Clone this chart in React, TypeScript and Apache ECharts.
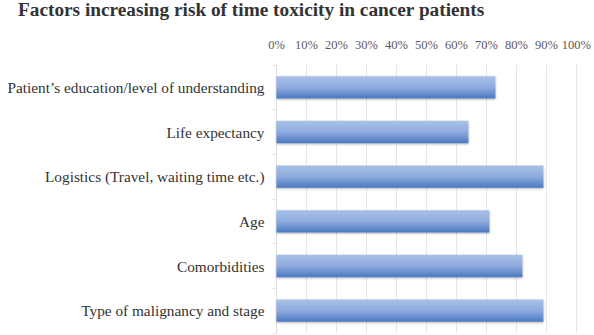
import React, { useEffect, useRef } from "react";
import * as echarts from "echarts";

const titleText = "Factors increasing risk of time toxicity in cancer patients";
const categories = [
  "Patient\u2019s education/level of understanding",
  "Life expectancy",
  "Logistics (Travel, waiting time etc.)",
  "Age",
  "Comorbidities",
  "Type of malignancy and stage",
];
const values = [0.73, 0.64, 0.89, 0.71, 0.82, 0.89];

const serif = "'Liberation Serif', 'Times New Roman', serif";

export default function App() {
  const ref = useRef<HTMLDivElement>(null);
  useEffect(() => {
    const chart = echarts.init(ref.current!, null, { renderer: "svg" });
    chart.setOption({
      animation: false,
      backgroundColor: "#ffffff",
      title: {
        text: titleText,
        left: 18,
        top: 0,
        padding: 0,
        textStyle: { fontFamily: serif, fontSize: 19.3, fontWeight: "bold", color: "#333333" },
      },
      grid: { left: 276.5, right: 16, top: 65, bottom: 2, containLabel: false },
      xAxis: {
        type: "value",
        position: "top",
        min: 0,
        max: 1,
        interval: 0.1,
        axisLine: { show: false },
        axisTick: { show: false },
        axisLabel: {
          margin: 14,
          fontFamily: serif,
          fontSize: 12.5,
          color: "#595959",
          formatter: (v: number) => Math.round(v * 100) + "%",
        },
        splitLine: { show: true, lineStyle: { color: "#e6e6e6", width: 1 } },
      },
      yAxis: {
        type: "category",
        data: categories,
        inverse: true,
        axisLine: { show: true, lineStyle: { color: "#e0e0e0" } },
        axisTick: { show: true, length: 4, lineStyle: { color: "#e0e0e0" } },
        axisLabel: { margin: 12, fontFamily: serif, fontSize: 15.3, color: "#333333" },
      },
      series: [
        {
          type: "bar",
          data: values,
          barWidth: "50%",
          itemStyle: {
            color: new echarts.graphic.LinearGradient(0, 0, 0, 1, [
              { offset: 0, color: "#a9c1e8" },
              { offset: 0.5, color: "#8fabde" },
              { offset: 1, color: "#4a78c2" },
            ]),
            shadowBlur: 2,
            shadowColor: "rgba(0,0,0,0.3)",
            shadowOffsetY: 1,
          },
        },
      ],
    });
    return () => chart.dispose();
  }, []);
  return <div ref={ref} style={{ width: 594, height: 335, position: "absolute", left: 0, top: 0 }} />;
}
